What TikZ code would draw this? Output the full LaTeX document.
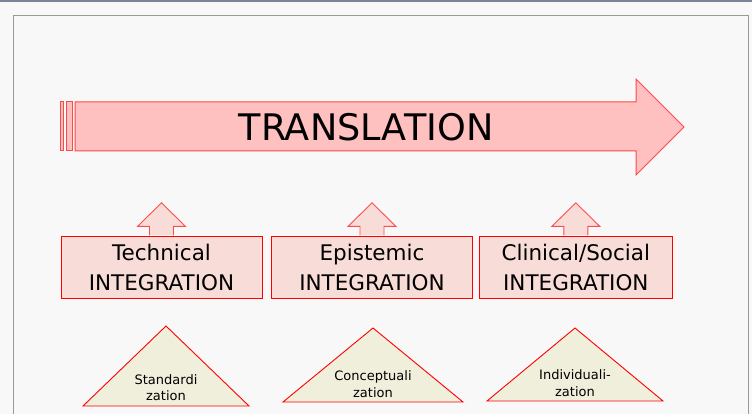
\documentclass[tikz,border=0pt]{standalone}
\usepackage{fontspec}
\setmainfont{DejaVu Sans}
\usetikzlibrary{calc}
\definecolor{arrowfill}{HTML}{FFC0C0}
\definecolor{arrowline}{HTML}{FF4848}
\definecolor{boxfill}{HTML}{F8DCD8}
\definecolor{trifill}{HTML}{F0EFDC}
\definecolor{framegray}{HTML}{9A9A9A}
\definecolor{bargray}{HTML}{7A8696}
\definecolor{pagegray}{HTML}{F8F8F8}
\tikzset{
	integ/.style={draw=red,fill=boxfill,line width=0.9pt,minimum width=#1,minimum height=62pt,inner sep=0pt,align=center,font=\fontsize{21.5}{30}\selectfont},
	uparrow/.style={draw=red!70,fill=boxfill,line width=0.9pt},
	tri/.style={draw=red,fill=trifill,line width=0.9pt},
	trilabel/.style={inner sep=0pt,align=center,font=\fontsize{13}{16.5}\selectfont}
}
\begin{document}
\begin{tikzpicture}[x=1pt,y=-1pt]
\useasboundingbox (0,0) rectangle (752,414);
\fill[pagegray] (0,0) rectangle (752,414);
\fill[bargray] (0,0) rectangle (752,2.5);
\draw[framegray,line width=0.8pt] (13,414)--(13,15)--(748,15)--(748,414);
\filldraw[draw=arrowline,fill=arrowfill,line width=1pt] (75,102)--(636,102)--(636,79)--(684,127)--(636,175)--(636,151)--(75,151)--cycle;
\filldraw[draw=arrowline,fill=arrowfill,line width=1pt] (60,102) rectangle (63,151);
\filldraw[draw=arrowline,fill=arrowfill,line width=1pt] (66,102) rectangle (72,151);
\node[inner sep=0pt,font=\fontsize{36.6}{40}\selectfont,name=trans] at (366,127){TRANSLATION};
\foreach \name/\x/\w/\txt in {tech/161.5/201/Technical,epi/372/201/Epistemic,clin/575.8/193/{Clinical/Social}}{
	\node[integ=\w,name=\name] at (\x,267.3){\txt\\INTEGRATION};
	\filldraw[uparrow] ($(\name.north)+(-12,-0.45)$)--++(0,-9)--++(-12,0)--($(\name.north)+(0,-33)$)
		--($(\name.north)+(24,-9.45)$)--++(-12,0)--($(\name.north)+(12,-0.45)$);
};
\foreach \name/\x/\top/\base/\half/\y/\txt in {std/166/326/406/83/387.5/{Standardi\\zation},con/373/328/402/90/384/{Conceptuali\\zation},ind/575/328/401/88/383/{Individuali-\\zation}}{
	\filldraw[tri] (\x,\top)--(\x+\half,\base)--(\x-\half,\base)--cycle;
	\node[trilabel,name=\name] at (\x,\y){\txt};
};
\end{tikzpicture}
\end{document}
